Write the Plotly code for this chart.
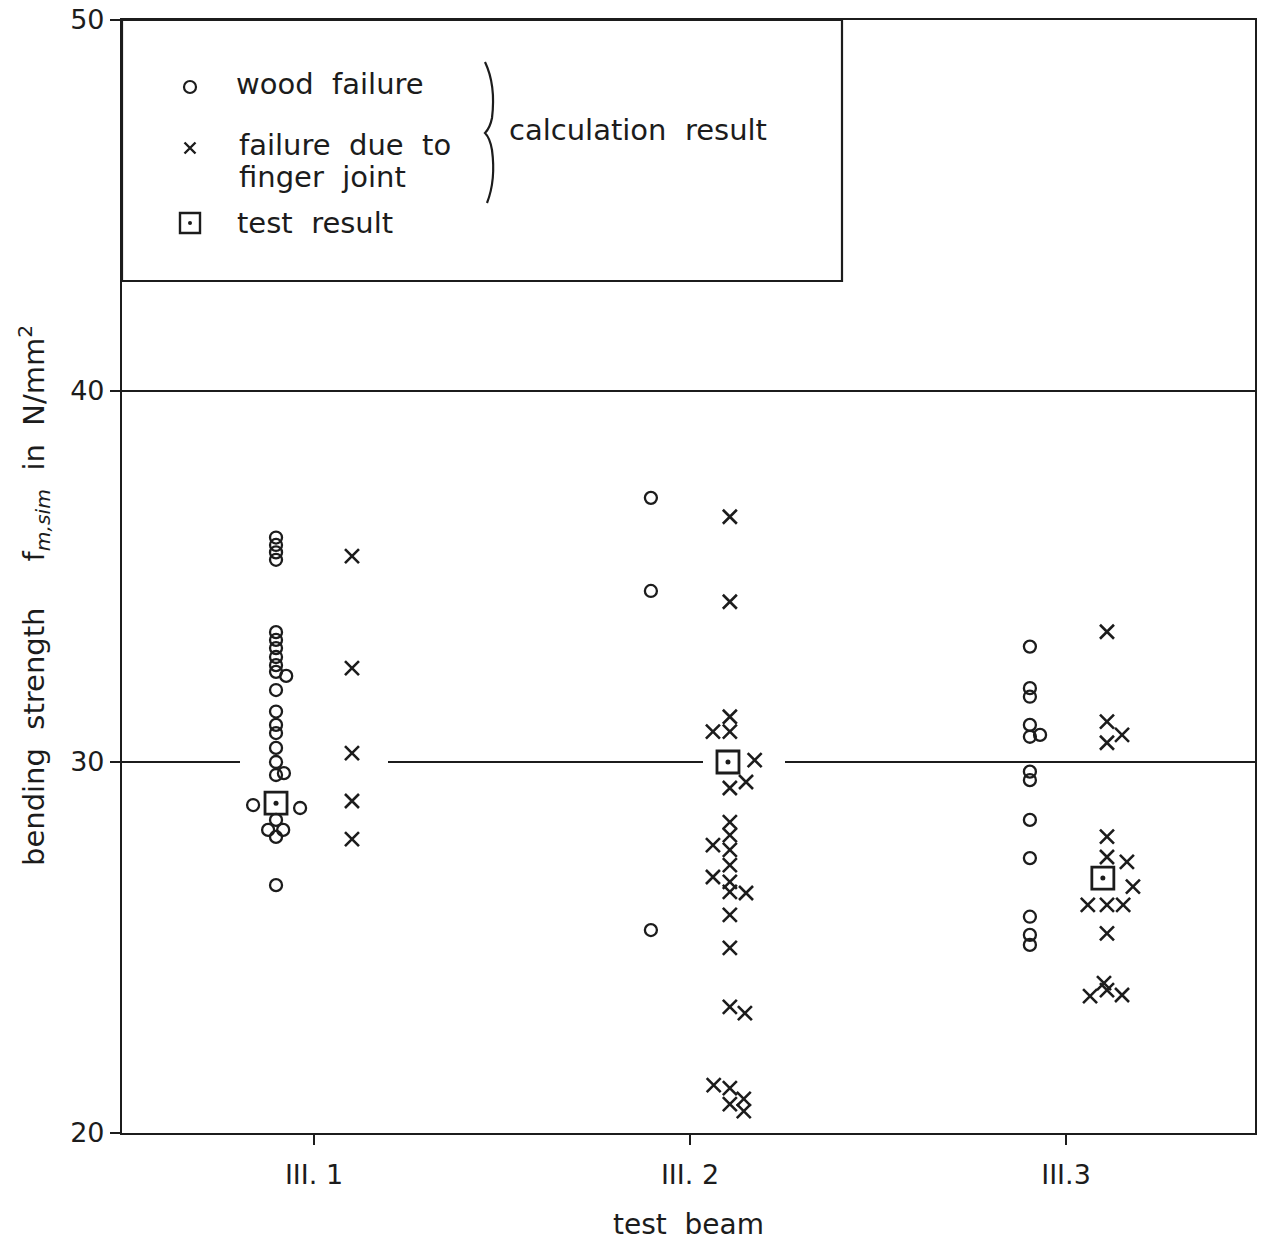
import plotly.graph_objects as go

# ---------------- data ----------------
beams = ["III. 1", "III. 2", "III.3"]
beam_pos = [1, 2, 3]

# wood failure (calculation result), per beam: values and small horizontal offsets
wood_b1 = [36.05, 35.85, 35.65, 35.45, 33.50, 33.29, 33.07, 32.83, 32.61, 32.43, 32.32, 31.94,
           31.36, 31.00, 30.78, 30.38, 30.00, 29.65, 29.70, 28.84, 28.76, 28.44, 28.17, 28.17,
           27.98, 26.68]
wood_b1_off = [0, 0, 0, 0, 0, 0, 0, 0, 0, 0, 0.027, 0,
               0, 0, 0, 0, 0, 0, 0.021, -0.061, 0.064, 0, -0.021, 0.019,
               0, 0]
wood_b2 = [37.12, 34.61, 25.47]
wood_b2_off = [0, 0, 0]
wood_b3 = [33.11, 31.99, 31.76, 31.00, 30.68, 30.73, 29.74, 29.51, 28.44, 27.41, 25.83, 25.34, 25.07]
wood_b3_off = [0, 0, 0, 0, 0, 0.027, 0, 0, 0, 0, 0, 0, 0]

# failure due to finger joint (calculation result)
fj_b1 = [35.55, 32.53, 30.24, 28.95, 27.92]
fj_b1_off = [0, 0, 0, 0, 0]
fj_b2 = [36.61, 34.32, 31.22, 30.82, 30.82, 30.05, 29.46, 29.30, 28.38, 28.03, 27.76, 27.63,
         27.22, 26.90, 26.77, 26.50, 26.47, 25.88, 24.99, 23.40, 23.23, 21.29, 21.21, 20.92,
         20.78, 20.59]
fj_b2_off = [0, 0, 0, -0.045, 0, 0.066, 0.043, 0, 0, 0, -0.045, 0,
             0, -0.045, 0, 0, 0.043, 0, 0, 0, 0.040, -0.043, 0, 0.037,
             0, 0.037]
fj_b3 = [33.51, 31.09, 30.73, 30.52, 27.99, 27.44, 27.31, 26.64, 26.15, 26.15, 26.15, 25.38,
         23.69, 24.04, 23.85, 23.72]
fj_b3_off = [0, 0, 0.040, 0, 0, 0, 0.053, 0.069, -0.051, 0, 0.043, 0,
             -0.045, -0.008, 0, 0.040]

# test results
test_vals = [28.89, 30.00, 26.87]

wood_vals = [wood_b1, wood_b2, wood_b3]
wood_offs = [wood_b1_off, wood_b2_off, wood_b3_off]
fj_vals = [fj_b1, fj_b2, fj_b3]
fj_offs = [fj_b1_off, fj_b2_off, fj_b3_off]

# column offsets (in beam units) of the three symbol groups
wood_col = [-0.101, -0.104, -0.096]
fj_col = [0.101, 0.106, 0.109]
test_col = [-0.101, 0.101, 0.098]

y_ticks = [20, 30, 40, 50]

# ---------------- layout helpers (pixel -> axis coords) ----------------
def xd(px):
    return 1 + (px - 314) / 376.0

def yd(py):
    return 50 - (py - 20) / 37.1

INK = "#1c1c1c"
FONT = "DejaVu Sans"

fig = go.Figure()

# wood failure circles
wx, wy = [], []
for i, b in enumerate(beam_pos):
    for v, o in zip(wood_vals[i], wood_offs[i]):
        wx.append(b + wood_col[i] + o)
        wy.append(v)
fig.add_trace(go.Scatter(x=wx, y=wy, mode="markers",
                         marker=dict(symbol="circle-open", size=12, color=INK,
                                     line=dict(width=2.3, color=INK)),
                         showlegend=False))

# finger joint crosses
fx, fy = [], []
for i, b in enumerate(beam_pos):
    for v, o in zip(fj_vals[i], fj_offs[i]):
        fx.append(b + fj_col[i] + o)
        fy.append(v)
fig.add_trace(go.Scatter(x=fx, y=fy, mode="markers",
                         marker=dict(symbol="x-thin-open", size=14, color=INK,
                                     line=dict(width=2.6, color=INK)),
                         showlegend=False))

# test result squares with dot
tx = [b + c for b, c in zip(beam_pos, test_col)]
fig.add_trace(go.Scatter(x=tx, y=test_vals, mode="markers",
                         marker=dict(symbol="square-open", size=22, color=INK,
                                     line=dict(width=2.8, color=INK)),
                         showlegend=False))
fig.add_trace(go.Scatter(x=tx, y=test_vals, mode="markers",
                         marker=dict(symbol="circle", size=5, color=INK),
                         showlegend=False))

# legend symbols (inside the legend box)
fig.add_trace(go.Scatter(x=[xd(190)], y=[yd(87)], mode="markers",
                         marker=dict(symbol="circle-open", size=12, color=INK,
                                     line=dict(width=2.2, color=INK)), showlegend=False))
fig.add_trace(go.Scatter(x=[xd(190)], y=[yd(148)], mode="markers",
                         marker=dict(symbol="x-thin-open", size=11, color=INK,
                                     line=dict(width=2.4, color=INK)), showlegend=False))
fig.add_trace(go.Scatter(x=[xd(190)], y=[yd(223)], mode="markers",
                         marker=dict(symbol="square-open", size=20, color=INK,
                                     line=dict(width=2.4, color=INK)), showlegend=False))
fig.add_trace(go.Scatter(x=[xd(190)], y=[yd(223)], mode="markers",
                         marker=dict(symbol="circle", size=4, color=INK), showlegend=False))

shapes = []
# horizontal line at 40 (full width)
shapes.append(dict(type="line", xref="x", yref="y", x0=xd(122), x1=xd(1255), y0=40, y1=40,
                   line=dict(color=INK, width=1.8)))
# horizontal line at 30 with gaps around the point groups
for a, b in [(122, 240), (388, 703), (785, 1255)]:
    shapes.append(dict(type="line", xref="x", yref="y", x0=xd(a), x1=xd(b), y0=30, y1=30,
                       line=dict(color=INK, width=1.8)))
# legend box
shapes.append(dict(type="rect", xref="x", yref="y", x0=xd(122), x1=xd(842), y0=yd(281), y1=50,
                   line=dict(color=INK, width=2.2), fillcolor="rgba(0,0,0,0)"))
# brace
path = "M {},{} Q {},{} {},{} Q {},{} {},{} Q {},{} {},{} Q {},{} {},{}".format(
    xd(485), yd(62),
    xd(496), yd(85), xd(492), yd(118),
    xd(490), yd(128), xd(485), yd(133),
    xd(490), yd(138), xd(492), yd(150),
    xd(496), yd(180), xd(487), yd(203))
shapes.append(dict(type="path", xref="x", yref="y", path=path,
                   line=dict(color=INK, width=2.2)))

annots = []
def txt(px, py, s, size=29):
    annots.append(dict(x=xd(px), y=yd(py), xref="x", yref="y", text=s, showarrow=False,
                       xanchor="left", yanchor="middle",
                       font=dict(family=FONT, size=size, color=INK)))

txt(234, 84, "wood  failure")
txt(237, 145, "failure  due  to")
txt(237, 177, "finger  joint")
txt(235, 223, "test  result")
txt(507, 130, "calculation  result")

# y axis title
annots.append(dict(xref="paper", yref="paper",
                   x=-(122 - 34) / (1255 - 122), y=(1133 - 596) / (1133 - 20),
                   text="bending  strength     f<sub><i>m,sim</i></sub>  in  N/mm<sup>2</sup>",
                   textangle=-90, showarrow=False, xanchor="center", yanchor="middle",
                   font=dict(family=FONT, size=29, color=INK)))

fig.update_layout(
    width=1266, height=1241,
    margin=dict(l=122, r=11, t=20, b=108, autoexpand=False),
    paper_bgcolor="white", plot_bgcolor="white",
    shapes=shapes, annotations=annots,
    showlegend=False,
    xaxis=dict(range=[xd(122), xd(1255)], tickmode="array", tickvals=beam_pos, ticktext=beams,
               ticks="outside", ticklen=10, tickwidth=1.5, tickcolor=INK,
               ticklabelstandoff=6, automargin=False,
               showgrid=False, zeroline=False, showline=True, linecolor=INK, linewidth=2.2,
               mirror=True,
               tickfont=dict(family=FONT, size=27, color=INK),
               title=dict(text="test  beam", font=dict(family=FONT, size=28, color=INK),
                          standoff=26)),
    yaxis=dict(range=[20, 50], tickmode="array", tickvals=y_ticks,
               ticks="outside", ticklen=10, tickwidth=1.5, tickcolor=INK,
               automargin=False,
               showgrid=False, zeroline=False, showline=True, linecolor=INK, linewidth=2.2,
               mirror=True,
               tickfont=dict(family=FONT, size=27, color=INK)),
)

fig.write_html("out.html")
